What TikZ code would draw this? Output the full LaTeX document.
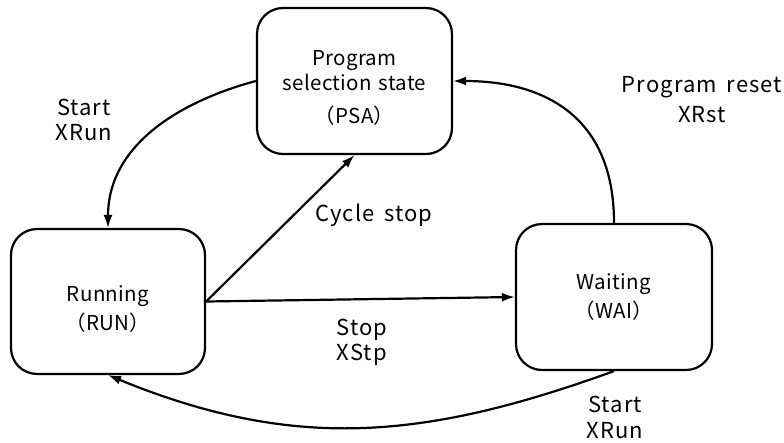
\documentclass[tikz,border=0pt]{standalone}
\usepackage{fontspec}
\setmainfont{Noto Sans CJK JP}
\newfontfamily\lblfont[LetterSpace=5,WordSpace=1.6]{Noto Sans CJK JP}
\newfontfamily\boxfont[LetterSpace=1.5,WordSpace=1.4]{Noto Sans CJK JP}
\usetikzlibrary{arrows.meta}
\begin{document}
\begin{tikzpicture}[x=1pt,y=-1pt,
  box/.style={draw, line width=2.2pt, rounded corners=26pt, align=center,
    font=\boxfont\fontsize{20.5}{29}\selectfont},
  lbl/.style={align=center, font=\lblfont\fontsize{22}{25}\selectfont},
  arr/.style={line width=2.2pt, -{Latex[length=13pt,width=9pt]}}]
\useasboundingbox (0,0) rectangle (784,442);
\node[box, minimum width=195pt, minimum height=146pt] (psa) at (354.5,81)
  {\rule{0pt}{28pt}Program\\[-4pt]selection state\\[4pt]（PSA）};
\node[box, minimum width=194pt, minimum height=145pt] (run) at (108,301.5)
  {\rule{0pt}{30pt}Running\\（RUN）};
\node[box, minimum width=196pt, minimum height=146pt] (wai) at (614,297)
  {Waiting\\（WAI）};
\draw[arr] (psa.west) to[out=195,in=90] (run.north);
\draw[arr] (run.east) -- (psa.south);
\draw[arr] (run.east) -- (wai.west);
\draw[arr] (wai.north) .. controls +(0,-109) and +(88,0) .. (psa.east);
\draw[arr] (wai.south) .. controls +(-188,68) and +(188,77) .. (run.south);
\node[lbl] (l1) at (84,120) {Start\\XRun};
\node[lbl] (l2) at (374,215) {Cycle stop};
\node[lbl, font=\lblfont\fontsize{22}{30}\selectfont] (l3) at (702,100) {Program reset\\XRst};
\node[lbl] (l4) at (362,342) {Stop\\XStp};
\node[lbl, font=\lblfont\fontsize{22}{26}\selectfont] (l5) at (615,417) {Start\\XRun};
\end{tikzpicture}
\end{document}
